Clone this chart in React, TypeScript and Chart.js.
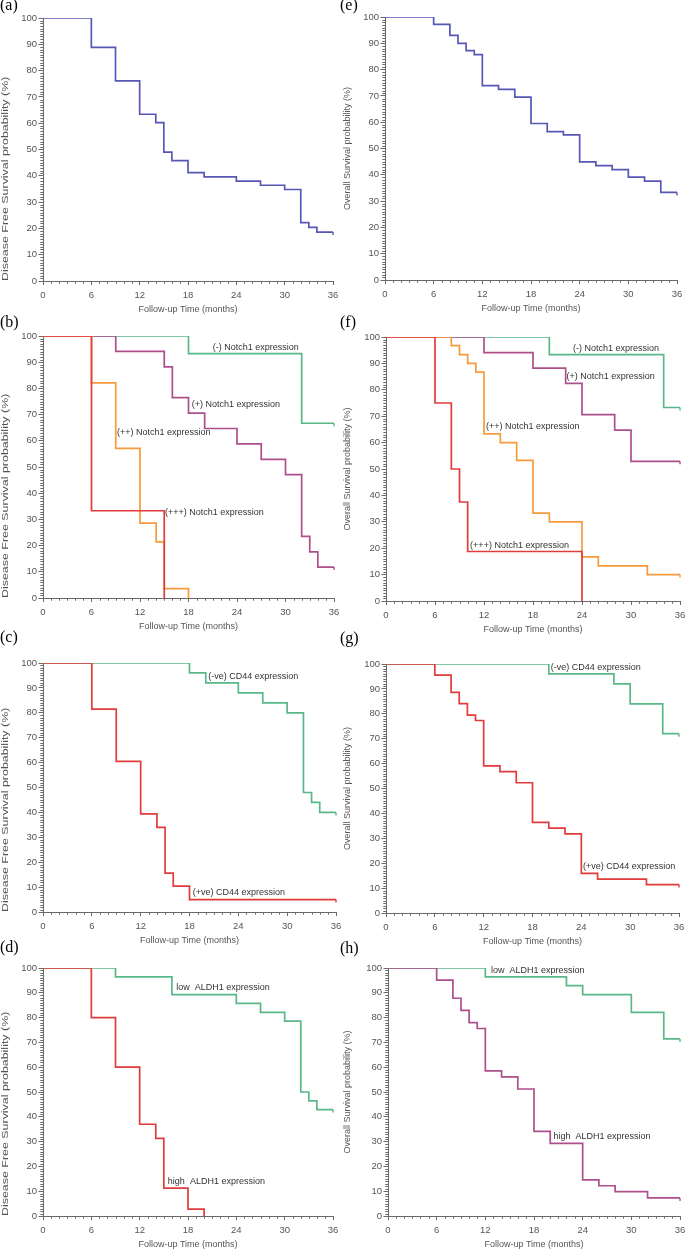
import React, { useEffect, useRef } from 'react';
import { Chart, registerables } from 'chart.js';

Chart.register(...registerables);
Chart.defaults.font.family = '"Liberation Sans", Arial, sans-serif';

// ---------- data (months / survival %) ----------
const xTicks = [0, 6, 12, 18, 24, 30, 36];
const yTicks = [0, 10, 20, 30, 40, 50, 60, 70, 80, 90, 100];

// (a) DFS overall
const aTime = [0, 6, 9, 12, 14, 15, 16, 18, 20, 24, 27, 30, 32, 33, 34, 36];
const aSurv = [100, 88.8, 76.1, 63.4, 60.2, 49.0, 45.8, 41.2, 39.6, 38.0, 36.4, 34.8, 22.2, 20.4, 18.6, 18.6];

// (e) OS overall
const eTime = [0, 6, 8, 9, 10, 11, 12, 14, 16, 18, 20, 22, 24, 26, 28, 30, 32, 34, 36];
const eSurv = [100, 97.2, 93.0, 90.0, 87.2, 85.7, 73.9, 72.5, 69.5, 59.5, 56.4, 55.2, 44.9, 43.5, 42.0, 39.1, 37.6, 33.3, 33.3];

// (b) DFS by Notch1
const bNegTime = [0, 18, 32, 36];
const bNegSurv = [100, 93.3, 66.7, 66.7];
const bPosTime = [0, 9, 15, 16, 18, 20, 24, 27, 30, 32, 33, 34, 36];
const bPosSurv = [100, 94.1, 88.2, 76.5, 70.6, 64.7, 58.8, 52.9, 47.1, 23.5, 17.6, 11.8, 11.8];
const bPos2Time = [0, 6, 9, 12, 14, 15, 18];
const bPos2Surv = [100, 82.1, 57.1, 28.6, 21.4, 3.6, 0];
const bPos3Time = [0, 6, 15];
const bPos3Surv = [100, 33.3, 0];

// (f) OS by Notch1
const fNegTime = [0, 20, 34, 36];
const fNegSurv = [100, 93.3, 73.3, 73.3];
const fPosTime = [0, 12, 18, 22, 24, 28, 30, 36];
const fPosSurv = [100, 94.1, 88.2, 82.4, 70.6, 64.7, 52.9, 52.9];
const fPos2Time = [0, 8, 9, 10, 11, 12, 14, 16, 18, 20, 24, 26, 32, 36];
const fPos2Surv = [100, 96.7, 93.3, 90.0, 86.7, 63.3, 60.0, 53.3, 33.3, 30.0, 16.7, 13.3, 10.0, 10.0];
const fPos3Time = [0, 6, 8, 9, 10, 24];
const fPos3Surv = [100, 75, 50, 37.5, 18.75, 0];

// (c) DFS by CD44
const cNegTime = [0, 18, 20, 24, 27, 30, 32, 33, 34, 36];
const cNegSurv = [100, 96, 92, 88, 84, 80, 48, 44, 40, 40];
const cPosTime = [0, 6, 9, 12, 14, 15, 16, 18, 36];
const cPosSurv = [100, 81.5, 60.5, 39.4, 34.0, 15.6, 10.4, 5.0, 5.0];

// (g) OS by CD44
const gNegTime = [0, 20, 28, 30, 34, 36];
const gNegSurv = [100, 96, 92, 84, 72, 72];
const gPosTime = [0, 6, 8, 9, 10, 11, 12, 14, 16, 18, 20, 22, 24, 26, 32, 36];
const gPosSurv = [100, 95.5, 88.6, 84.1, 79.5, 77.3, 59.1, 56.8, 52.3, 36.4, 34.1, 31.8, 15.9, 13.6, 11.4, 11.4];

// (d) DFS by ALDH1
const dLowTime = [0, 9, 16, 24, 27, 30, 32, 33, 34, 36];
const dLowSurv = [100, 96.4, 89.3, 85.7, 82.1, 78.6, 50.0, 46.4, 42.9, 42.9];
const dHighTime = [0, 6, 9, 12, 14, 15, 18, 20];
const dHighSurv = [100, 80, 60, 37.0, 31.3, 11.2, 2.8, 0];

// (h) OS by ALDH1
const hLowTime = [0, 12, 22, 24, 30, 34, 36];
const hLowSurv = [100, 96.4, 92.9, 89.3, 82.1, 71.4, 71.4];
const hHighTime = [0, 6, 8, 9, 10, 11, 12, 14, 16, 18, 20, 24, 26, 28, 32, 36];
const hHighSurv = [100, 95.1, 87.8, 82.9, 78.0, 75.6, 58.5, 56.1, 51.2, 34.1, 29.3, 14.6, 12.2, 9.8, 7.3, 7.3];

// annotation texts
const notchLabels = ['(-) Notch1 expression', '(+) Notch1 expression', '(++) Notch1 expression', '(+++) Notch1 expression'];
const cd44Labels = ['(-ve) CD44 expression', '(+ve) CD44 expression'];
const aldhLabels = ['low  ALDH1 expression', 'high  ALDH1 expression'];
const bNoteX = [21.0, 18.4, 9.15, 15.1];
const bNoteY = [95.5, 73.7, 63.3, 32.8];
const fNoteX = [22.9, 22.1, 12.25, 10.3];
const fNoteY = [95.6, 84.9, 66.2, 21.2];
const cNoteX = [20.3, 18.4];
const cNoteY = [94.6, 8.0];
const gNoteX = [20.25, 24.2];
const gNoteY = [98.7, 18.7];
const dNoteX = [16.55, 15.5];
const dNoteY = [92.2, 14.0];
const hNoteX = [12.7, 20.4];
const hNoteY = [98.9, 32.0];

const xTitle = 'Follow-up Time (months)';
const dfsTitle = 'Disease Free Survival probability (%)';
const osTitle = 'Overall Survival probability (%)';

// ---------- styles ----------
const BLUE = '#5757b5';
const GREEN = '#58b888';
const PURPLE = '#ad4f8a';
const ORANGE = '#f89a3c';
const RED = '#e23b3b';
const AXIS = '#6a6a6a';
const TXT = '#555555';
const NOTE = '#333333';

type Series = { t: number[]; s: number[]; color: string };
type Note = { text: string; x: number; y: number };
type Panel = {
  tag: string; yTitle: string; series: Series[]; notes: Note[];
  colX: number; l: number; r: number; t: number; b: number; tagTop: number;
  titleStretch: number; titleAlign: 'start' | 'center'; titleX: number;
};

const mk = (texts: string[], xs: number[], ys: number[]): Note[] => texts.map((text, i) => ({ text, x: xs[i], y: ys[i] }));

const DFS = { titleStretch: 1.38, titleAlign: 'start' as const, titleX: 6 };
const OS = { titleStretch: 1.0, titleAlign: 'center' as const, titleX: 7.5 };

const panels: Panel[] = [
  { tag: '(a)', yTitle: dfsTitle, colX: 0, l: 43, r: 333, t: 18, b: 281, tagTop: -3, ...DFS,
    series: [{ t: aTime, s: aSurv, color: BLUE }], notes: [] },
  { tag: '(e)', yTitle: osTitle, colX: 340, l: 385, r: 677, t: 17, b: 280, tagTop: -3, ...OS,
    series: [{ t: eTime, s: eSurv, color: BLUE }], notes: [] },
  { tag: '(b)', yTitle: dfsTitle, colX: 0, l: 43, r: 334, t: 336, b: 598, tagTop: 313.5, ...DFS,
    series: [
      { t: bPos3Time, s: bPos3Surv, color: RED },
      { t: bPos2Time, s: bPos2Surv, color: ORANGE },
      { t: bPosTime, s: bPosSurv, color: PURPLE },
      { t: bNegTime, s: bNegSurv, color: GREEN },
    ], notes: mk(notchLabels, bNoteX, bNoteY) },
  { tag: '(f)', yTitle: osTitle, colX: 340, l: 386, r: 680, t: 337, b: 601, tagTop: 314, ...OS,
    series: [
      { t: fPos3Time, s: fPos3Surv, color: RED },
      { t: fPos2Time, s: fPos2Surv, color: ORANGE },
      { t: fPosTime, s: fPosSurv, color: PURPLE },
      { t: fNegTime, s: fNegSurv, color: GREEN },
    ], notes: mk(notchLabels, fNoteX, fNoteY) },
  { tag: '(c)', yTitle: dfsTitle, colX: 0, l: 43, r: 336, t: 663, b: 912, tagTop: 628.5, ...DFS,
    series: [
      { t: cPosTime, s: cPosSurv, color: RED },
      { t: cNegTime, s: cNegSurv, color: GREEN },
    ], notes: mk(cd44Labels, cNoteX, cNoteY) },
  { tag: '(g)', yTitle: osTitle, colX: 340, l: 386, r: 679, t: 664, b: 913, tagTop: 630, ...OS,
    series: [
      { t: gPosTime, s: gPosSurv, color: RED },
      { t: gNegTime, s: gNegSurv, color: GREEN },
    ], notes: mk(cd44Labels, gNoteX, gNoteY) },
  { tag: '(d)', yTitle: dfsTitle, colX: 0, l: 43, r: 333, t: 968, b: 1216, tagTop: 938.5, ...DFS,
    series: [
      { t: dHighTime, s: dHighSurv, color: RED },
      { t: dLowTime, s: dLowSurv, color: GREEN },
    ], notes: mk(aldhLabels, dNoteX, dNoteY) },
  { tag: '(h)', yTitle: osTitle, colX: 340, l: 388, r: 680, t: 968, b: 1216, tagTop: 940, ...OS,
    series: [
      { t: hHighTime, s: hHighSurv, color: PURPLE },
      { t: hLowTime, s: hLowSurv, color: GREEN },
    ], notes: mk(aldhLabels, hNoteX, hNoteY) },
];

const TOP_PAD = 14;
const X_AXIS_H = 36;

const canvasGeom = (p: Panel) => {
  const width = p.colX === 0 ? 350 : 360;
  const top = p.t - TOP_PAD;
  const height = p.b + X_AXIS_H - top;
  return { left: p.colX, top, width, height };
};

const minorTicks = {
  id: 'minorTicks',
  afterDraw(chart: any) {
    const { ctx, chartArea, scales } = chart;
    const xs = scales.x;
    const ys = scales.y;
    ctx.save();
    ctx.strokeStyle = AXIS;
    ctx.lineWidth = 1;
    ctx.beginPath();
    for (let v = 0; v <= 36; v++) {
      if (v % 6 === 0) continue;
      const px = Math.round(xs.getPixelForValue(v)) + 0.5;
      ctx.moveTo(px, chartArea.bottom);
      ctx.lineTo(px, chartArea.bottom + 2.7);
    }
    for (let v = 0; v <= 100; v++) {
      if (v % 10 === 0) continue;
      const py = Math.round(ys.getPixelForValue(v)) + 0.5;
      ctx.moveTo(chartArea.left - 2.7, py);
      ctx.lineTo(chartArea.left, py);
    }
    ctx.stroke();
    ctx.restore();
  },
};

// small censoring tick at the end of each curve that is still above zero
const endTicks = {
  id: 'endTicks',
  afterDatasetsDraw(chart: any) {
    const { ctx } = chart;
    ctx.save();
    chart.data.datasets.forEach((ds: any, i: number) => {
      const meta = chart.getDatasetMeta(i);
      const last = meta.data[meta.data.length - 1];
      const raw = ds.data[ds.data.length - 1];
      if (!last || raw.y <= 0) return;
      ctx.strokeStyle = ds.borderColor;
      ctx.lineWidth = 1.4;
      ctx.beginPath();
      ctx.moveTo(last.x, last.y);
      ctx.lineTo(last.x, last.y + 3);
      ctx.stroke();
    });
    ctx.restore();
  },
};

const notesPlugin = {
  id: 'kmNotes',
  afterDatasetsDraw(chart: any, _args: any, opts: any) {
    const notes: Note[] = opts.notes || [];
    const { ctx, scales } = chart;
    ctx.save();
    ctx.font = '9px "Liberation Sans", Arial, sans-serif';
    ctx.fillStyle = NOTE;
    ctx.textAlign = 'left';
    ctx.textBaseline = 'middle';
    notes.forEach((n) => {
      ctx.fillText(n.text, scales.x.getPixelForValue(n.x), scales.y.getPixelForValue(n.y));
    });
    ctx.restore();
  },
};

// y-axis title, drawn along the y scale (stretched along its length like the source figure)
const yTitlePlugin = {
  id: 'yTitle',
  afterDraw(chart: any, _args: any, opts: any) {
    const { ctx, scales } = chart;
    const ys = scales.y;
    const x = ys.left + opts.offsetX;
    const y = opts.align === 'start' ? ys.bottom : (ys.top + ys.bottom) / 2;
    ctx.save();
    ctx.translate(x, y);
    ctx.rotate(-Math.PI / 2);
    ctx.scale(opts.stretch, 1);
    ctx.font = '9px "Liberation Sans", Arial, sans-serif';
    ctx.fillStyle = TXT;
    ctx.textAlign = opts.align === 'start' ? 'left' : 'center';
    ctx.textBaseline = 'middle';
    ctx.fillText(opts.text, 0, 0);
    ctx.restore();
  },
};

function KMPanel({ p }: { p: Panel }) {
  const ref = useRef<HTMLCanvasElement | null>(null);
  const g = canvasGeom(p);
  useEffect(() => {
    if (!ref.current) return;
    const yAxisW = p.l - g.left;
    const rightPad = g.left + g.width - p.r;
    const chart = new Chart(ref.current, {
      type: 'line',
      data: {
        datasets: p.series.map((s) => ({
          data: s.t.map((x, i) => ({ x, y: s.s[i] })),
          borderColor: s.color,
          borderWidth: 1.7,
          pointRadius: 0,
          stepped: 'before' as const,
          fill: false,
        })),
      },
      options: {
        responsive: false,
        animation: false,
        devicePixelRatio: 1,
        layout: { padding: { top: TOP_PAD, right: rightPad, bottom: 0, left: 0 } },
        plugins: {
          legend: { display: false },
          tooltip: { enabled: false },
          kmNotes: { notes: p.notes },
          yTitle: { text: p.yTitle, stretch: p.titleStretch, align: p.titleAlign, offsetX: p.titleX },
        } as any,
        scales: {
          x: {
            type: 'linear',
            min: 0,
            max: 36,
            afterFit: (s: any) => { s.height = X_AXIS_H; },
            afterBuildTicks: (s: any) => { s.ticks = xTicks.map((v) => ({ value: v })); },
            ticks: { autoSkip: false, maxRotation: 0, padding: 4.5, color: TXT, font: { size: 9.5 } },
            grid: { display: true, drawOnChartArea: false, drawTicks: true, tickLength: 4, color: AXIS },
            border: { display: true, color: AXIS, width: 1 },
            title: { display: true, text: xTitle, color: TXT, font: { size: 9 }, padding: { top: 0, bottom: 2 } },
          },
          y: {
            type: 'linear',
            min: 0,
            max: 100,
            afterFit: (s: any) => { s.width = yAxisW; },
            afterBuildTicks: (s: any) => { s.ticks = yTicks.map((v) => ({ value: v })); },
            ticks: { padding: 1.5, color: TXT, font: { size: 9.5 } },
            grid: { display: true, drawOnChartArea: false, drawTicks: true, tickLength: 4.5, color: AXIS },
            border: { display: true, color: AXIS, width: 1 },
            title: { display: false },
          },
        },
      } as any,
      plugins: [minorTicks, endTicks, notesPlugin, yTitlePlugin],
    } as any);
    return () => chart.destroy();
  }, []);
  return (
    <>
      <canvas
        ref={ref}
        width={g.width}
        height={g.height}
        style={{ position: 'absolute', left: g.left, top: g.top, width: g.width, height: g.height }}
      />
      <div
        style={{
          position: 'absolute', left: p.colX, top: p.tagTop, font: '16px "Liberation Serif", serif',
          lineHeight: '16px', color: '#000', whiteSpace: 'nowrap',
        }}
      >
        {p.tag}
      </div>
    </>
  );
}

export default function App() {
  return (
    <div
      style={{
        position: 'absolute', left: 0, top: 0, width: 685, height: 1249,
        overflow: 'hidden', background: '#fff',
      }}
    >
      {panels.map((p) => <KMPanel key={p.tag} p={p} />)}
    </div>
  );
}
